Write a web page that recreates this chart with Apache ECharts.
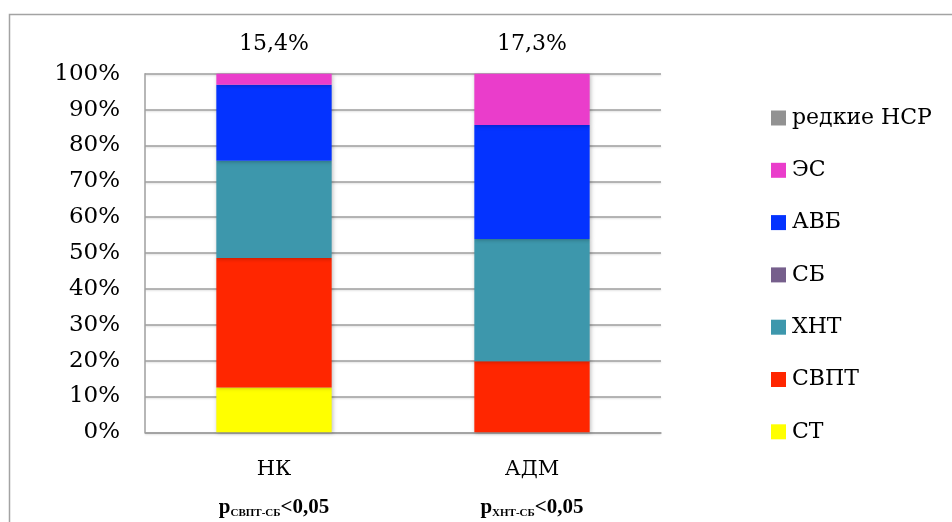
<!DOCTYPE html>
<html>
<head>
<meta charset="utf-8">
<style>
  html, body { margin: 0; padding: 0; background: #ffffff; }
  #chart { width: 952px; height: 522px; }
</style>
<script src="https://cdn.jsdelivr.net/npm/echarts@6/dist/echarts.min.js"></script>
</head>
<body>
<div id="chart"></div>
<script>
// Groups on the category axis
const categories = ['НК', 'АДМ'];
// Subscripts of the p-value line under each group
const pSubscripts = ['СВПТ-СБ', 'ХНТ-СБ'];
const pTail = '<0,05';
// Share labels shown above each column
const topLabels = ['15,4%', '17,3%'];

// Stacked shares, %, bottom to top
const seriesNames = ['СТ', 'СВПТ', 'ХНТ', 'СБ', 'АВБ', 'ЭС', 'редкие НСР'];
const valuesST    = [12.5, 0];
const valuesSVPT  = [36.1, 19.8];
const valuesHNT   = [27.1, 34.1];
const valuesSB    = [0, 0];
const valuesAVB   = [21.2, 31.8];
const valuesES    = [3.1, 14.3];
const valuesRare  = [0, 0];

// Y axis ticks
const yMin = 0, yMax = 100, yStep = 10;

const colors = {
  'СТ': '#FFFF00',
  'СВПТ': '#FF2600',
  'ХНТ': '#3D97AC',
  'СБ': '#765F8C',
  'АВБ': '#0433FF',
  'ЭС': '#EA3DCB',
  'редкие НСР': '#929292'
};

const valuesByName = {
  'СТ': valuesST,
  'СВПТ': valuesSVPT,
  'ХНТ': valuesHNT,
  'СБ': valuesSB,
  'АВБ': valuesAVB,
  'ЭС': valuesES,
  'редкие НСР': valuesRare
};

const FONT = 'DejaVu Serif';
const BOLD_FONT = 'Liberation Serif';

const series = seriesNames.map(function (name) {
  const s = {
    name: name,
    type: 'bar',
    stack: 'total',
    barWidth: '44.7%',
    data: valuesByName[name],
    itemStyle: {
      color: colors[name],
      shadowBlur: 4,
      shadowColor: 'rgba(0,0,0,0.25)',
      shadowOffsetX: 1,
      shadowOffsetY: 1
    }
  };
  if (name === 'ЭС') {
    s.label = {
      show: true,
      position: 'top',
      distance: 18,
      fontFamily: FONT,
      fontSize: 22,
      color: '#000',
      formatter: function (p) { return topLabels[p.dataIndex]; }
    };
  }
  return s;
});

const chart = echarts.init(document.getElementById('chart'), null, { renderer: 'canvas' });

chart.setOption({
  animation: false,
  backgroundColor: '#ffffff',
  grid: { left: 145, right: 291, top: 73.7, bottom: 89.7, containLabel: false },
  graphic: [{
    type: 'rect',
    shape: { x: 9.5, y: 14.5, width: 1000, height: 600 },
    style: { fill: 'none', stroke: '#a3a3a3', lineWidth: 1.5 },
    silent: true
  }],
  legend: {
    orient: 'vertical',
    left: 771,
    top: 107,
    padding: 0,
    itemWidth: 15,
    itemHeight: 15,
    itemGap: 30.3,
    icon: 'rect',
    data: ['редкие НСР', 'ЭС', 'АВБ', 'СБ', 'ХНТ', 'СВПТ', 'СТ'],
    textStyle: { fontFamily: FONT, fontSize: 22, color: '#000', padding: [0, 0, 0, 1] }
  },
  xAxis: {
    type: 'category',
    data: categories,
    axisLine: { show: true, lineStyle: { color: '#9f9f9f', width: 1.5 } },
    axisTick: { show: false },
    axisLabel: {
      margin: 22,
      interval: 0,
      formatter: function (value, idx) {
        return '{cat|' + value + '}\n{p|р}{sub|' + pSubscripts[idx] + '}{p|' + pTail + '}';
      },
      rich: {
        cat: { fontFamily: FONT, fontSize: 21, color: '#000', lineHeight: 30 },
        p: { fontFamily: BOLD_FONT, fontSize: 21, fontWeight: 'bold', color: '#000', lineHeight: 34, verticalAlign: 'bottom' },
        sub: { fontFamily: BOLD_FONT, fontSize: 11, fontWeight: 'bold', color: '#000', lineHeight: 14, verticalAlign: 'bottom' }
      }
    }
  },
  yAxis: {
    type: 'value',
    min: yMin,
    max: yMax,
    interval: yStep,
    axisLine: { show: true, lineStyle: { color: '#9f9f9f', width: 1.5 } },
    axisTick: { show: false },
    axisLabel: {
      margin: 25,
      fontFamily: FONT,
      fontSize: 23,
      color: '#000',
      formatter: '{value}%'
    },
    splitLine: {
      show: true,
      lineStyle: {
        color: '#9f9f9f',
        width: 1.5,
        shadowColor: 'rgba(0,0,0,0.15)',
        shadowBlur: 2,
        shadowOffsetY: 1
      }
    }
  },
  series: series
});
</script>
</body>
</html>
